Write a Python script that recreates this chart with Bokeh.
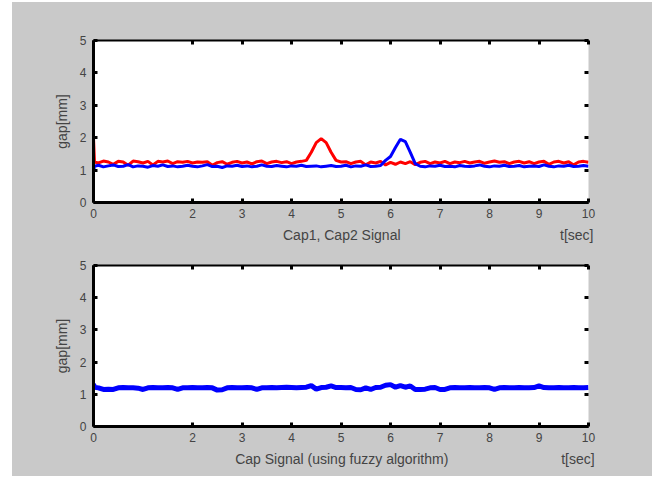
from bokeh.plotting import figure
from bokeh.layouts import column, row, Spacer
from bokeh.models import LinearAxis, FixedTicker, Range1d, CustomLabelingPolicy
from bokeh.embed import file_html
from bokeh.resources import INLINE

# ---------------- data ----------------
t = [0.0, 0.02, 0.1, 0.2, 0.3, 0.4, 0.5, 0.6, 0.7, 0.8, 0.9,
     1.0, 1.1, 1.2, 1.3, 1.4, 1.5, 1.6, 1.7, 1.8, 1.9,
     2.0, 2.1, 2.2, 2.3, 2.4, 2.5, 2.6, 2.7, 2.8, 2.9,
     3.0, 3.1, 3.2, 3.3, 3.4, 3.5, 3.6, 3.7, 3.8, 3.9,
     4.0, 4.1, 4.2, 4.3, 4.4, 4.5, 4.6, 4.7, 4.8, 4.9,
     5.0, 5.1, 5.2, 5.3, 5.4, 5.5, 5.6, 5.7, 5.8, 5.9,
     6.0, 6.1, 6.2, 6.3, 6.4, 6.5, 6.6, 6.7, 6.8, 6.9,
     7.0, 7.1, 7.2, 7.3, 7.4, 7.5, 7.6, 7.7, 7.8, 7.9,
     8.0, 8.1, 8.2, 8.3, 8.4, 8.5, 8.6, 8.7, 8.8, 8.9,
     9.0, 9.1, 9.2, 9.3, 9.4, 9.5, 9.6, 9.7, 9.8, 9.9, 10.0]

cap1 = [2.0, 1.25, 1.22, 1.28, 1.25, 1.18, 1.27, 1.25, 1.15, 1.28, 1.26,
        1.22, 1.27, 1.16, 1.27, 1.25, 1.28, 1.20, 1.26, 1.24, 1.27,
        1.22, 1.25, 1.24, 1.26, 1.15, 1.23, 1.26, 1.18, 1.24, 1.27,
        1.22, 1.25, 1.19, 1.26, 1.28, 1.20, 1.25, 1.27, 1.23, 1.26,
        1.20, 1.25, 1.27, 1.30, 1.55, 1.85, 1.97, 1.85, 1.55, 1.30,
        1.25, 1.26, 1.20, 1.25, 1.27, 1.16, 1.25, 1.22, 1.27, 1.16,
        1.24, 1.18, 1.25, 1.20, 1.26, 1.17, 1.24, 1.27, 1.20, 1.25,
        1.22, 1.27, 1.20, 1.25, 1.23, 1.27, 1.22, 1.25, 1.27, 1.21,
        1.25, 1.28, 1.24, 1.26, 1.20, 1.25, 1.27, 1.22, 1.26, 1.20,
        1.25, 1.27, 1.18, 1.25, 1.27, 1.22, 1.26, 1.16, 1.25, 1.27, 1.24]

cap2 = [0.95, 1.12, 1.15, 1.10, 1.13, 1.16, 1.11, 1.12, 1.17, 1.10, 1.13,
        1.12, 1.09, 1.14, 1.12, 1.16, 1.11, 1.13, 1.10, 1.12, 1.15,
        1.12, 1.10, 1.13, 1.17, 1.11, 1.12, 1.08, 1.13, 1.12, 1.15,
        1.11, 1.13, 1.10, 1.12, 1.16, 1.12, 1.11, 1.14, 1.12, 1.10,
        1.13, 1.12, 1.15, 1.11, 1.12, 1.13, 1.10, 1.12, 1.14, 1.11,
        1.12, 1.15, 1.10, 1.13, 1.12, 1.16, 1.11, 1.12, 1.14, 1.30,
        1.42, 1.70, 1.95, 1.88, 1.55, 1.20, 1.12, 1.10, 1.13, 1.12,
        1.15, 1.11, 1.12, 1.10, 1.14, 1.12, 1.11, 1.13, 1.16, 1.12,
        1.10, 1.13, 1.12, 1.15, 1.11, 1.12, 1.14, 1.10, 1.12, 1.13,
        1.11, 1.16, 1.12, 1.10, 1.13, 1.12, 1.15, 1.11, 1.12, 1.14, 1.12]

fused = [1.32, 1.22, 1.20, 1.15, 1.16, 1.15, 1.20, 1.21, 1.20, 1.20, 1.19,
         1.15, 1.20, 1.21, 1.20, 1.20, 1.21, 1.20, 1.15, 1.20, 1.20,
         1.21, 1.20, 1.20, 1.21, 1.20, 1.13, 1.14, 1.20, 1.21, 1.20,
         1.20, 1.21, 1.20, 1.15, 1.20, 1.20, 1.21, 1.20, 1.21, 1.22,
         1.21, 1.20, 1.21, 1.22, 1.27, 1.16, 1.21, 1.22, 1.26, 1.21,
         1.21, 1.20, 1.21, 1.15, 1.14, 1.20, 1.15, 1.21, 1.22, 1.28,
         1.30, 1.22, 1.27, 1.22, 1.26, 1.15, 1.15, 1.16, 1.20, 1.21,
         1.15, 1.15, 1.20, 1.21, 1.20, 1.20, 1.21, 1.20, 1.20, 1.21,
         1.20, 1.15, 1.20, 1.21, 1.20, 1.20, 1.21, 1.20, 1.20, 1.21,
         1.26, 1.21, 1.20, 1.20, 1.21, 1.20, 1.20, 1.21, 1.20, 1.20, 1.21]

x_ticks = [0, 2, 3, 4, 5, 6, 7, 8, 9, 10]
y_ticks = [0, 1, 2, 3, 4, 5]
top_xlabel = "Cap1, Cap2 Signal"
bottom_xlabel = "Cap Signal (using fuzzy algorithm)"
ylabel = "gap[mm]"
tlabel = "t[sec]"

FONT = "Liberation Sans"
GRAY = "#c9c9c9"
NBSP = "\u00a0"

NO_LABELS = "for (const i of indices) { indices.unset(i) } return indices"


def make_fig(border_top, border_bottom, frame_h, xlabel, lead, gap):
    p = figure(width=81 + 495 + 64, height=border_top + frame_h + border_bottom,
               x_range=Range1d(0, 10), y_range=Range1d(0, 5),
               output_backend="svg", toolbar_location=None,
               min_border_left=81, min_border_right=64,
               min_border_top=border_top, min_border_bottom=border_bottom,
               border_fill_color=GRAY, background_fill_color="white",
               outline_line_color=None)
    p.grid.visible = False
    for ax in (p.xaxis[0], p.yaxis[0]):
        ax.axis_line_width = 3
        ax.axis_line_color = "black"
        ax.major_tick_in = 4
        ax.major_tick_out = 0
        ax.major_tick_line_width = 3
        ax.minor_tick_line_color = None
        ax.major_label_text_font = FONT
        ax.major_label_text_font_size = "12px"
        ax.axis_label_text_font = FONT
        ax.axis_label_text_font_size = "14px"
        ax.axis_label_text_font_style = "normal"
    p.xaxis.ticker = FixedTicker(ticks=x_ticks)
    p.yaxis.ticker = FixedTicker(ticks=y_ticks)
    # axis label row: centred signal name, with "t[sec]" at the right end of the axis
    p.xaxis.axis_label = NBSP * lead + xlabel + NBSP * gap + tlabel
    p.yaxis.axis_label = ylabel
    p.xaxis.major_label_standoff = 6
    p.xaxis.axis_label_standoff = 6
    p.yaxis.major_label_standoff = 7
    p.yaxis.axis_label_standoff = 7

    top = LinearAxis(ticker=FixedTicker(ticks=x_ticks), axis_line_width=2,
                     major_tick_in=4, major_tick_out=0, major_tick_line_width=3,
                     minor_tick_line_color=None,
                     major_label_policy=CustomLabelingPolicy(code=NO_LABELS))
    right = LinearAxis(ticker=FixedTicker(ticks=y_ticks), axis_line_color=None,
                       major_tick_in=4, major_tick_out=0, major_tick_line_width=3,
                       minor_tick_line_color=None,
                       major_label_policy=CustomLabelingPolicy(code=NO_LABELS))
    p.add_layout(top, "above")
    p.add_layout(right, "right")
    return p


p1 = make_fig(38, 45, 162, top_xlabel, 50, 41)
p1.line(t, cap1, line_color="#ff0000", line_width=3)
p1.line(t, cap2, line_color="#0000ff", line_width=3)

p2 = make_fig(18, 50, 161, bottom_xlabel, 38, 29)
p2.line(t, fused, line_color="#0000ff", line_width=5)

layout = column(Spacer(height=2),
                row(Spacer(width=12),
                    column(p1, p2, spacing=0, styles={"background-color": GRAY}),
                    spacing=0),
                spacing=0)

open("out.html", "w").write(file_html(layout, INLINE))
